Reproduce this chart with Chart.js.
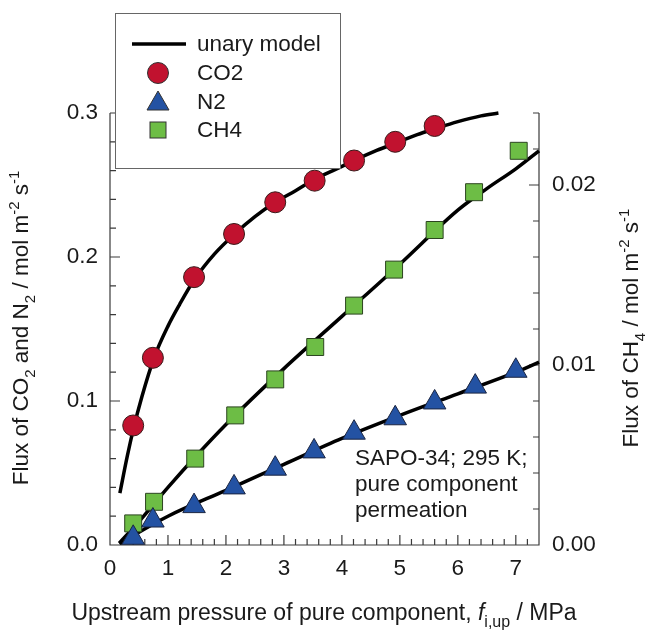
<!DOCTYPE html>
<html>
<head>
<meta charset="utf-8">
<script src="https://cdn.jsdelivr.net/npm/chart.js@4.4.1/dist/chart.umd.min.js"></script>
<style>
  html, body { margin: 0; padding: 0; background: #fff; }
  canvas { display: block; }
</style>
</head>
<body>
<canvas id="flux-chart" width="649" height="635"></canvas>
<script>
// measured points
const pressureCO2 = [0.40, 0.74, 1.45, 2.14, 2.85, 3.53, 4.21, 4.92, 5.60];
const fluxCO2 = [0.083, 0.130, 0.186, 0.216, 0.238, 0.253, 0.267, 0.280, 0.291];

const pressureN2 = [0.40, 0.74, 1.45, 2.14, 2.85, 3.52, 4.21, 4.92, 5.60, 6.30, 7.00];
const fluxN2 = [0.005, 0.017, 0.027, 0.040, 0.053, 0.065, 0.078, 0.088, 0.099, 0.110, 0.121];

const pressureCH4 = [0.40, 0.76, 1.47, 2.16, 2.85, 3.54, 4.21, 4.90, 5.60, 6.28, 7.05];
const fluxCH4 = [0.0012, 0.0024, 0.0048, 0.0072, 0.0092, 0.0110, 0.0133, 0.0153, 0.0175, 0.0196, 0.0219];

// unary model curves
const modelPressureCO2 = [0.17, 0.3, 0.4, 0.55, 0.76, 1.0, 1.2, 1.45, 1.8, 2.15, 2.5, 2.85, 3.2, 3.53, 3.9, 4.21, 4.6, 4.92, 5.3, 5.6, 6.0, 6.4, 6.7];
const modelFluxCO2 = [0.036, 0.062, 0.080, 0.103, 0.130, 0.152, 0.167, 0.184, 0.202, 0.216, 0.228, 0.238, 0.246, 0.254, 0.261, 0.267, 0.274, 0.279, 0.285, 0.289, 0.294, 0.298, 0.300];

const modelPressureN2 = [0.16, 1, 2, 3, 4, 5, 6, 7, 7.4];
const modelFluxN2 = [0.001, 0.020, 0.038, 0.056, 0.074, 0.090, 0.105, 0.120, 0.127];

const modelPressureCH4 = [0.16, 0.5, 1, 1.5, 2, 3, 4, 5, 6, 6.5, 7, 7.4];
const modelFluxCH4 = [0.0001, 0.0013, 0.0032, 0.0050, 0.0067, 0.0098, 0.0127, 0.0156, 0.0186, 0.0198, 0.0209, 0.0219];

const legendLabels = ['unary model', 'CO2', 'N2', 'CH4'];
const noteLines = ['SAPO-34; 295 K;', 'pure component', 'permeation'];

const FONT = '"Liberation Sans", Arial, sans-serif';
const FS = 22.5;
const TEXT = '#1a1a1a';
const AXIS = '#3a3a3a';
const RED = '#c1122f';
const BLUE = '#2352a3';
const GREEN = '#6dbd45';

function toXY(xs, ys) {
    return xs.map((x, i) => ({ x: x, y: ys[i] }));
}

function isMultiple(v, step) {
    return Math.abs(v / step - Math.round(v / step)) < 1e-6;
}

// draws text pieces with sub/superscripts, centred on x
function richText(ctx, parts, x, y, size) {
    const small = Math.round(size * 0.68);
    let total = 0;
    parts.forEach(p => {
        const fs = p.s ? small : size;
        ctx.font = (p.i ? 'italic ' : '') + fs + 'px ' + FONT;
        p.w = ctx.measureText(p.t).width;
        total += p.w;
    });
    let cx = x - total / 2;
    ctx.textAlign = 'left';
    ctx.textBaseline = 'alphabetic';
    parts.forEach(p => {
        const fs = p.s ? small : size;
        ctx.font = (p.i ? 'italic ' : '') + fs + 'px ' + FONT;
        let dy = 0;
        if (p.s === 'sub') dy = size * 0.3;
        if (p.s === 'sup') dy = -size * 0.42;
        ctx.fillText(p.t, cx, y + dy);
        cx += p.w;
    });
}

const axesPlugin = {
    id: 'axesPlugin',
    beforeDatasetsDraw(chart) {
        const ctx = chart.ctx;
        const area = chart.chartArea;
        const sx = chart.scales.x, sy = chart.scales.y, sy2 = chart.scales.y2;
        ctx.save();
        ctx.strokeStyle = AXIS;
        ctx.lineWidth = 1.2;
        ctx.beginPath();
        ctx.moveTo(area.left, area.top);
        ctx.lineTo(area.left, area.bottom);
        ctx.lineTo(area.right, area.bottom);
        ctx.lineTo(area.right, area.top);
        sx.ticks.forEach(t => {
            const px = sx.getPixelForValue(t.value);
            const len = isMultiple(t.value, 1) ? 10 : 6;
            ctx.moveTo(px, area.bottom);
            ctx.lineTo(px, area.bottom - len);
        });
        sy.ticks.forEach(t => {
            const py = sy.getPixelForValue(t.value);
            const len = isMultiple(t.value, 0.1) ? 10 : 6;
            ctx.moveTo(area.left, py);
            ctx.lineTo(area.left + len, py);
        });
        sy2.ticks.forEach(t => {
            const py = sy2.getPixelForValue(t.value);
            const len = isMultiple(t.value, 0.01) ? 10 : 6;
            ctx.moveTo(area.right, py);
            ctx.lineTo(area.right - len, py);
        });
        ctx.stroke();
        ctx.restore();
    },
    afterDraw(chart) {
        const ctx = chart.ctx;
        ctx.save();
        ctx.fillStyle = TEXT;

        // axis titles
        ctx.save();
        ctx.translate(28, 328);
        ctx.rotate(-Math.PI / 2);
        richText(ctx, [
            { t: 'Flux of CO' }, { t: '2', s: 'sub' }, { t: ' and N' }, { t: '2', s: 'sub' },
            { t: ' / mol m' }, { t: '-2', s: 'sup' }, { t: ' s' }, { t: '-1', s: 'sup' }
        ], 0, 0, FS);
        ctx.restore();

        ctx.save();
        ctx.translate(638, 328);
        ctx.rotate(-Math.PI / 2);
        richText(ctx, [
            { t: 'Flux of CH' }, { t: '4', s: 'sub' },
            { t: ' / mol m' }, { t: '-2', s: 'sup' }, { t: ' s' }, { t: '-1', s: 'sup' }
        ], 0, 0, FS);
        ctx.restore();

        richText(ctx, [
            { t: 'Upstream pressure of pure component, ' }, { t: 'f', i: true },
            { t: 'i,up', s: 'sub' }, { t: ' / MPa' }
        ], 324, 620, 23);

        // note
        ctx.font = FS + 'px ' + FONT;
        ctx.textAlign = 'left';
        ctx.textBaseline = 'middle';
        noteLines.forEach((line, i) => ctx.fillText(line, 355, 459 + i * 26));

        // legend box
        ctx.fillStyle = '#fff';
        ctx.fillRect(115, 13, 225, 155);
        ctx.strokeStyle = '#666';
        ctx.lineWidth = 1;
        ctx.strokeRect(115.5, 13.5, 225, 155);

        const rows = [44, 73, 102, 130];
        ctx.strokeStyle = '#000';
        ctx.lineWidth = 3.5;
        ctx.beginPath();
        ctx.moveTo(132, rows[0]);
        ctx.lineTo(186, rows[0]);
        ctx.stroke();

        ctx.lineWidth = 1;
        ctx.strokeStyle = '#333';
        ctx.fillStyle = RED;
        ctx.beginPath();
        ctx.arc(158, rows[1], 10.5, 0, Math.PI * 2);
        ctx.fill();
        ctx.stroke();

        ctx.fillStyle = BLUE;
        ctx.beginPath();
        ctx.moveTo(158, rows[2] - 11);
        ctx.lineTo(169, rows[2] + 8);
        ctx.lineTo(147, rows[2] + 8);
        ctx.closePath();
        ctx.fill();
        ctx.stroke();

        ctx.fillStyle = GREEN;
        ctx.fillRect(150, rows[3] - 8, 16, 16);
        ctx.strokeRect(150, rows[3] - 8, 16, 16);

        ctx.fillStyle = TEXT;
        ctx.font = FS + 'px ' + FONT;
        ctx.textBaseline = 'middle';
        legendLabels.forEach((label, i) => ctx.fillText(label, 197, rows[i] + 1));
        ctx.restore();
    }
};

const tickFont = { family: FONT, size: FS };

const canvas = document.getElementById('flux-chart');
const ctx = canvas.getContext('2d');
new Chart(ctx, {
    type: 'scatter',
    data: {
        datasets: [
            {
                label: 'CO2',
                data: toXY(pressureCO2, fluxCO2),
                yAxisID: 'y',
                pointStyle: 'circle',
                pointRadius: 10.5,
                backgroundColor: RED,
                borderColor: '#3a1a1a',
                borderWidth: 1,
                order: 1
            },
            {
                label: 'N2',
                data: toXY(pressureN2, fluxN2),
                yAxisID: 'y',
                pointStyle: 'triangle',
                pointRadius: 13,
                backgroundColor: BLUE,
                borderColor: '#1a2440',
                borderWidth: 1,
                order: 1
            },
            {
                label: 'CH4',
                data: toXY(pressureCH4, fluxCH4),
                yAxisID: 'y2',
                pointStyle: 'rect',
                pointRadius: 12,
                backgroundColor: GREEN,
                borderColor: '#2c4420',
                borderWidth: 1,
                order: 1
            },
            {
                label: 'model CO2',
                data: toXY(modelPressureCO2, modelFluxCO2),
                yAxisID: 'y',
                showLine: true,
                pointRadius: 0,
                borderColor: '#000',
                borderWidth: 3.5,
                cubicInterpolationMode: 'monotone',
                order: 2
            },
            {
                label: 'model N2',
                data: toXY(modelPressureN2, modelFluxN2),
                yAxisID: 'y',
                showLine: true,
                pointRadius: 0,
                borderColor: '#000',
                borderWidth: 3.5,
                cubicInterpolationMode: 'monotone',
                order: 2
            },
            {
                label: 'model CH4',
                data: toXY(modelPressureCH4, modelFluxCH4),
                yAxisID: 'y2',
                showLine: true,
                pointRadius: 0,
                borderColor: '#000',
                borderWidth: 3.5,
                cubicInterpolationMode: 'monotone',
                order: 2
            }
        ]
    },
    options: {
        responsive: false,
        animation: false,
        clip: false,
        layout: { padding: { top: 113, left: 0, right: 0, bottom: 0 } },
        plugins: {
            legend: { display: false },
            tooltip: { enabled: false }
        },
        scales: {
            x: {
                type: 'linear',
                min: 0,
                max: 7.4,
                grid: { display: false, drawTicks: false },
                border: { display: false },
                ticks: {
                    stepSize: 0.2,
                    autoSkip: false,
                    maxRotation: 0,
                    padding: 10,
                    color: TEXT,
                    font: tickFont,
                    callback: v => isMultiple(v, 1) ? String(Math.round(v)) : ''
                },
                afterFit(scale) { scale.height = 90; }
            },
            y: {
                position: 'left',
                min: 0,
                max: 0.3,
                grid: { display: false, drawTicks: false },
                border: { display: false },
                ticks: {
                    stepSize: 0.02,
                    autoSkip: false,
                    padding: 12,
                    color: TEXT,
                    font: tickFont,
                    callback: v => isMultiple(v, 0.1) ? v.toFixed(1) : ''
                },
                afterFit(scale) { scale.width = 110; }
            },
            y2: {
                position: 'right',
                min: 0,
                max: 0.024,
                grid: { display: false, drawTicks: false },
                border: { display: false },
                ticks: {
                    stepSize: 0.002,
                    autoSkip: false,
                    padding: 13,
                    color: TEXT,
                    font: tickFont,
                    callback: v => isMultiple(v, 0.01) ? v.toFixed(2) : ''
                },
                afterFit(scale) { scale.width = 110; }
            }
        }
    },
    plugins: [axesPlugin]
});
</script>
</body>
</html>
